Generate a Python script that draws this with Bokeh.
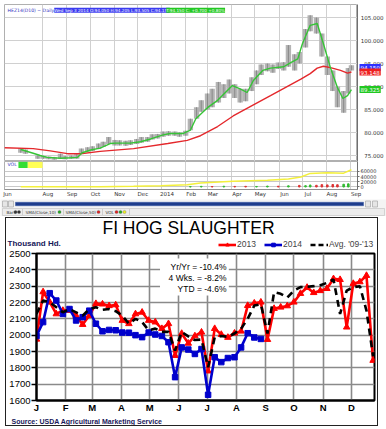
from bokeh.plotting import figure
from bokeh.models import (FixedTicker, Range1d, Label, Legend, LegendItem, BoxAnnotation,
                          NumeralTickFormatter, Title)
from bokeh.layouts import column, row
from bokeh.embed import file_html
from bokeh.resources import INLINE
from bokeh.core.properties import value

# ---------------- TOP PANEL DATA: HEZ14 lean hogs (x = days since 2013-06-01) -------------
bar_day = [33, 39, 55, 62, 69, 76, 84, 90, 98, 105, 111, 119, 125, 133, 139, 146, 154, 160,
           168, 174, 182, 188, 196, 202, 209, 216, 223, 231, 237, 245, 251, 259, 265, 273,
           279, 287, 294, 301, 308, 315, 322, 330, 336, 342, 350, 357, 364, 371, 377, 385,
           391, 399, 405, 413, 420, 427, 434, 440, 448, 454, 458]
bar_low = [75.6, 75.4, 74.3, 74.3, 74.2, 74.1, 74.3, 74.2, 74.3, 74.3, 75.5, 75.8, 76.0, 76.4,
           76.9, 77.5, 77.2, 77.2, 77.1, 77.3, 77.5, 77.8, 78.0, 78.5, 78.7, 79.1, 79.3, 79.3,
           79.1, 79.3, 80.5, 83.0, 84.5, 85.0, 85.5, 86.5, 87.5, 88.5, 87.5, 86.5, 86.8, 89.0,
           90.5, 92.5, 93.3, 93.0, 93.8, 93.5, 94.3, 93.5, 95.0, 98.5, 102.0, 101.5, 96.5,
           92.5, 89.0, 85.5, 84.3, 88.5, 93.5]
bar_high = [76.6, 76.3, 75.0, 74.9, 74.8, 74.7, 75.4, 74.9, 75.0, 75.3, 76.5, 76.8, 77.0, 77.6,
            78.0, 79.0, 78.4, 78.3, 78.2, 78.3, 78.6, 79.0, 79.0, 79.6, 79.7, 80.2, 80.3, 80.2,
            80.0, 80.4, 83.0, 85.5, 87.0, 88.5, 89.5, 91.0, 90.5, 91.5, 90.5, 89.5, 89.5, 92.0,
            93.5, 94.8, 95.0, 94.8, 95.2, 95.3, 99.0, 97.0, 97.5, 102.5, 105.5, 105.0, 101.5,
            96.5, 93.5, 90.0, 89.0, 94.0, 94.6]
last_close = 94.150

sma10_day = [33, 49, 58, 67, 84, 97, 106, 112, 123, 135, 148, 155, 174, 187, 200, 216, 225,
             242, 251, 258, 273, 286, 305, 315, 324, 332, 344, 354, 371, 380, 389, 395, 405,
             414, 422, 431, 440, 447, 453, 458]
sma10_val = [76.3, 75.5, 75.0, 74.6, 74.4, 74.5, 74.6, 75.6, 76.2, 76.6, 77.6, 77.7, 77.7,
             78.0, 78.6, 79.5, 79.8, 79.8, 80.5, 83.0, 85.4, 87.0, 90.2, 89.5, 88.7, 91.3,
             93.5, 94.0, 94.3, 95.2, 96.0, 99.3, 103.3, 103.7, 99.3, 94.1, 89.8, 87.4, 88.0,
             89.325]

sma50_day = [12, 49, 71, 93, 110, 135, 178, 222, 247, 264, 286, 306, 332, 354, 380, 393, 405,
             414, 422, 431, 444, 453, 458]
sma50_val = [76.7, 76.5, 76.0, 75.4, 75.4, 75.9, 76.5, 77.6, 78.3, 79.3, 81.3, 83.6, 86.0,
             88.0, 90.4, 91.6, 92.8, 94.0, 94.4, 94.1, 93.5, 92.9, 93.148]

oi_day = [33, 135, 178, 213, 247, 264, 306, 350, 377, 393, 405, 427, 448, 458]
oi_val = [500, 1000, 2500, 5000, 9000, 15000, 22000, 26000, 31000, 38000, 52000, 54000,
          53000, 66000]

vol_day = [251, 265, 279, 294, 308, 322, 336, 350, 364, 377, 391, 399, 405, 413, 420, 427,
           434, 440, 448, 454]
vol_val = [1500, 2500, 1800, 3000, 2200, 2500, 2000, 3500, 3000, 4500, 6000, 5000, 7500,
           6500, 9000, 8000, 9500, 8500, 10500, 12000]
vol_up = [1, 1, 0, 1, 0, 0, 1, 1, 0, 1, 0, 1, 1, 0, 0, 0, 0, 0, 1, 1]

month_start_day = [61, 92, 122, 153, 183, 214, 245, 273, 304, 334, 365, 395, 426, 457]
month_label_day = [16, 68, 99, 129, 160, 190, 221, 252, 280, 311, 341, 372, 402, 433, 464]
month_labels = ["Jun", "Aug", "Sep", "Oct", "Nov", "Dec", "2014", "Feb", "Mar", "Apr", "May",
                "Jun", "Jul", "Aug", "Sep"]
price_ticks = [75, 80, 85, 90, 95, 100, 105]
vol_ticks = [0, 20000, 40000, 60000]

# ---------------- BOTTOM PANEL DATA: FI hog slaughter, thousand head ----------------------
week_day = [7 * i for i in range(52)]          # weekly positions, day of year
s2013 = [1975, 2265, 2202, 2130, 2151, 2151, 2120, 2065, 2120, 2193, 2190, 2180, 2185, 2090,
         2070, 2130, 2140, 2090, 2080, 2040, 2070, 1875, 2010, 1950, 1995, 2018, 1780, 2040,
         2004, 1986, 2012, 2024, 2181, 2196, 2202, 1973, 2163, 2171, 2179, 2202, 2255, 2292,
         2260, 2272, 2285, 2345, 2340, 2049, 2316, 2326, 2365, 1845]
s2014 = [1995, 2080, 2257, 2212, 2130, 2160, 2090, 2110, 2150, 2070, 2024, 2032, 2030, 2016,
         2015, 2000, 1988, 2016, 2004, 1995, 1957, 1743, 1925, 1912, 1885, 1915, 1635, 1865,
         1835, 1860, 1865, 1925, 2012, 1986, 1977]
savg = [2130, 2212, 2202, 2171, 2140, 2160, 2140, 2120, 2160, 2171, 2155, 2160, 2147, 2120,
        2070, 2100, 2080, 2030, 2040, 2020, 2020, 1906, 2020, 1993, 1970, 1973, 1804, 1986,
        1995, 1990, 2010, 2040, 2100, 2181, 2190, 2010, 2263, 2253, 2230, 2273, 2294, 2296,
        2300, 2306, 2320, 2341, 2130, 2273, 2294, 2300, 2150, 1870]
hog_month_day = [0, 31, 59, 90, 120, 151, 181, 212, 243, 273, 304, 334]
hog_month_labels = ["J", "F", "M", "A", "M", "J", "J", "A", "S", "O", "N", "D"]
hog_y_ticks = [1600, 1700, 1800, 1900, 2000, 2100, 2200, 2300, 2400, 2500]
stats = ["Yr/Yr = -10.4%", "4 Wks. = -8.2%", "YTD = -4.6%"]

W = 386
SMALL = "DejaVu Sans"
ARIAL = "Liberation Sans"


def small_axis(ax):
    ax.major_label_text_font = SMALL
    ax.major_label_text_font_size = "5.5px"
    ax.major_label_text_color = "#333333"
    ax.major_tick_in = 0
    ax.minor_tick_out = 0
    ax.minor_tick_in = 0
    ax.major_label_standoff = 1
    ax.axis_line_color = "#707070"
    ax.major_tick_line_color = "#707070"


def bare(p):
    p.outline_line_color = None
    p.grid.visible = False


def no_align(p):
    if "frame_align" in p.properties():
        p.frame_align = False


# ================= price pane =================
p1 = figure(width=357, height=161, x_range=Range1d(12.1, 465.8), y_range=Range1d(73.70, 107.83),
            output_backend="svg", toolbar_location=None, x_axis_location=None,
            y_axis_location=None, min_border_left=4, min_border_right=0,
            min_border_top=4, min_border_bottom=0)
p1.outline_line_color = "#b0b0b0"
p1.ygrid.ticker = FixedTicker(ticks=price_ticks)
p1.ygrid.grid_line_color = "#d0d0d0"
p1.xgrid.ticker = FixedTicker(ticks=month_start_day)
p1.xgrid.grid_line_color = "#d0d0d0"

p1.vbar(x=bar_day, bottom=bar_low, top=bar_high, width=6.9, fill_color="#b4b4b4",
        line_color=None)
p1.segment(x0=bar_day, x1=bar_day, y0=bar_low, y1=bar_high, color="#8a8a8a", line_width=1)
p1.line(sma50_day, sma50_val, color="#e4282c", line_width=1.4)
p1.line(sma10_day, sma10_val, color="#35c435", line_width=1.4)

p1.add_layout(Label(x=16, y=106.6, text="HEZ14(D10) ~ Daily", text_font=SMALL,
                    text_font_size="4.6px", text_color="#3030c0", text_baseline="middle"))
p1.add_layout(Label(x=76, y=106.6, text="Wed Sep 3 2014 O:94.050 H:94.205 L:93.505 C:94.150",
                    text_font=SMALL, text_font_size="4.2px", text_color="white",
                    text_baseline="middle", background_fill_color="#3b3bf0"))
p1.add_layout(Label(x=220, y=106.6, text="T:94.150 C: +0.700 +0.80%", text_font=SMALL,
                    text_font_size="4.2px", text_color="white", text_baseline="middle",
                    background_fill_color="#22c822"))

# price scale strip at the right (axis labels drawn into the strip, value boxes on top)
p1r = figure(width=29, height=161, x_range=Range1d(0, 29), y_range=p1.y_range,
             output_backend="svg", toolbar_location=None, x_axis_location=None,
             y_axis_location="left", min_border_left=0, min_border_right=0,
             min_border_top=4, min_border_bottom=0)
bare(p1r)
p1r.yaxis.ticker = FixedTicker(ticks=price_ticks)
p1r.yaxis.formatter = NumeralTickFormatter(format="0.000")
small_axis(p1r.yaxis[0])
p1r.yaxis.major_tick_out = 2
p1r.yaxis.major_label_standoff = -28
for val, bg in [(last_close, "#3030ff"), (sma50_val[-1], "#ee2020"), (sma10_val[-1], "#22c822")]:
    p1r.add_layout(Label(x=2, y=val, text="%.3f" % val, text_font=SMALL,
                         text_font_size="5.5px", text_color="white", text_baseline="middle",
                         background_fill_color=bg, padding=1))

# ================= volume pane =================
p2 = figure(width=W, height=38, x_range=p1.x_range, y_range=Range1d(-9600, 97500),
            output_backend="svg", toolbar_location=None, y_axis_location="right",
            min_border_left=4, min_border_right=29, min_border_top=0, min_border_bottom=8)
p2.outline_line_color = "#b0b0b0"
p2.yaxis.ticker = FixedTicker(ticks=vol_ticks)
small_axis(p2.yaxis[0])
p2.yaxis.major_label_text_font_size = "5px"
p2.yaxis.major_tick_out = 2
p2.ygrid.grid_line_color = "#c8c8c8"
p2.xaxis.ticker = FixedTicker(ticks=month_label_day)
p2.xaxis.major_label_overrides = {d: t for d, t in zip(month_label_day, month_labels)}
small_axis(p2.xaxis[0])
p2.xaxis.major_tick_out = 0
p2.xaxis.axis_line_color = "#909090"
p2.xgrid.ticker = FixedTicker(ticks=month_start_day)
p2.xgrid.grid_line_color = "#d0d0d0"

p2.line(oi_day, oi_val, color="#f4f03c", line_width=1.5)
p2.vbar(x=vol_day, bottom=0, top=vol_val, width=2.0,
        color=["#33bb33" if u else "#dd3333" for u in vol_up])
p2.add_layout(Label(x=16, y=86000, text="VOL", text_font=SMALL, text_font_size="4.6px",
                    text_color="#3030c0", text_baseline="middle"))
p2.add_layout(BoxAnnotation(left=30, right=42, bottom=73000, top=97000, fill_color="#33dd33",
                            fill_alpha=1, line_color=None))
p2.add_layout(BoxAnnotation(left=42, right=61, bottom=73000, top=97000, fill_color="#ffff55",
                            fill_alpha=1, line_color=None))

# ================= scroll bar / legend strip =================
p3 = figure(width=W, height=17, x_range=Range1d(0, W), y_range=Range1d(0, 17),
            output_backend="svg", toolbar_location=None, x_axis_location=None,
            y_axis_location=None, min_border=0)
bare(p3)
no_align(p3)
p3.background_fill_color = "#f4f4f4"
p3.quad(left=[2, 8, 365, 372], right=[7, 13, 370, 377], bottom=[9.5] * 4, top=[15.5] * 4,
        fill_color="#e6e6e6", line_color="#a8a8a8", line_width=0.7)
p3.quad(left=[15], right=[363], bottom=[10.8], top=[14.2], fill_color="#1e3c8c",
        line_color="#4060a8", line_width=0.6)
p3.quad(left=[2], right=[384], bottom=[1], top=[8], fill_color="#ececec",
        line_color="#c4c4c4", line_width=0.7)
p3.segment(x0=[22, 63, 102, 129], x1=[22, 63, 102, 129], y0=[1.5] * 4, y1=[7.5] * 4,
           color="#b8b8b8", line_width=0.6)
p3.text(x=[6, 25, 65, 105], y=[4.5] * 4,
        text=["Bars", "SMA(Close,10)", "SMA(Close,50)", "VOL"],
        text_font=value(SMALL), text_font_size="4.2px", text_color="#333333",
        text_baseline="middle")
p3.scatter(x=[15, 18.5, 59, 98, 116, 120, 124], y=[4.5] * 7, size=3.2, line_width=0.3,
           fill_color=["#333333", "#333333", "#22aa22", "#dd2222", "#dd2222", "#22aa22",
                       "#eeee22"], line_color="#555555")

# ================= FI HOG SLAUGHTER : header strip =================
p4h = figure(width=371, height=31, x_range=Range1d(0, 371), y_range=Range1d(0, 31),
             output_backend="svg", toolbar_location=None, x_axis_location=None,
             y_axis_location=None, min_border=0)
bare(p4h)
no_align(p4h)
p4h.text(x=[182], y=[22], text=["FI HOG SLAUGHTER"], text_font=value(ARIAL),
         text_font_size="17.5px", text_align="center", text_baseline="middle",
         text_color="black")
p4h.text(x=[1], y=[6], text=["Thousand Hd."], text_font=value(ARIAL), text_font_size="8px",
         text_font_style="bold", text_baseline="middle", text_color="#18185a")
# legend proxies: styles only, their single point sits outside the visible range
h13 = p4h.line([-50, -40], [-50, -50], color="#ff0000", line_width=2.6)
h13m = p4h.scatter([-50], [-50], marker="triangle", size=6.5, color="#ff0000")
h14 = p4h.line([-50, -40], [-50, -50], color="#0000cc", line_width=2.6)
h14m = p4h.scatter([-50], [-50], marker="square", size=5.5, color="#0000cc")
havg = p4h.line([-50, -40], [-50, -50], color="black", line_width=2.6, line_dash="5 3")
legend = Legend(items=[LegendItem(label="2013", renderers=[h13, h13m]),
                       LegendItem(label="2014", renderers=[h14, h14m]),
                       LegendItem(label="Avg. '09-'13", renderers=[havg])],
                orientation="horizontal", location=(212, 0), glyph_width=18,
                glyph_height=9, label_text_font=ARIAL, label_text_font_size="8.5px",
                label_standoff=1, spacing=7, padding=0, margin=0,
                background_fill_alpha=0, border_line_alpha=0, label_height=9)
p4h.add_layout(legend)

# ================= FI HOG SLAUGHTER : chart =================
p4 = figure(width=371, height=176, x_range=Range1d(0, 358.5), y_range=Range1d(1600, 2500),
            output_backend="svg", toolbar_location=None, min_border_left=30,
            min_border_right=3, min_border_top=4, min_border_bottom=25)
no_align(p4)
p4.add_layout(Title(text="Source: USDA Agricultural Marketing Service", align="left",
                    offset=-25, text_font=ARIAL, text_font_size="7px", text_font_style="bold",
                    text_color="#18185a", standoff=0), "below")
p4.outline_line_color = "black"
p4.outline_line_width = 2
p4.yaxis.ticker = FixedTicker(ticks=hog_y_ticks)
p4.yaxis.major_label_text_font = ARIAL
p4.yaxis.major_label_text_font_size = "9.5px"
p4.yaxis.major_label_text_color = "black"
p4.yaxis.major_tick_out = 5
p4.yaxis.major_tick_in = 0
p4.yaxis.minor_tick_out = 0
p4.yaxis.minor_tick_in = 0
p4.yaxis.major_label_standoff = 1
p4.yaxis.axis_line_width = 2
p4.yaxis.major_tick_line_width = 1.5
p4.xaxis.ticker = FixedTicker(ticks=hog_month_day)
p4.xaxis.major_label_overrides = {d: t for d, t in zip(hog_month_day, hog_month_labels)}
p4.xaxis.major_label_text_font = ARIAL
p4.xaxis.major_label_text_font_size = "9.5px"
p4.xaxis.major_label_text_color = "black"
p4.xaxis.major_label_text_font_style = "bold"
p4.xaxis.major_tick_out = 0
p4.xaxis.major_tick_in = 0
p4.xaxis.minor_tick_out = 0
p4.xaxis.minor_tick_in = 0
p4.xaxis.major_label_standoff = 1
p4.xaxis.axis_line_width = 2
p4.grid.grid_line_color = "#8a8a8a"
p4.grid.grid_line_width = 1.6

p4.line(week_day, s2013, color="#ff0000", line_width=2.6)
p4.scatter(week_day, s2013, marker="triangle", size=6.5, color="#ff0000")
p4.line(week_day[:len(s2014)], s2014, color="#0000cc", line_width=2.6)
p4.scatter(week_day[:len(s2014)], s2014, marker="square", size=5.5, color="#0000cc")
p4.line(week_day, savg, color="black", line_width=2.6, line_dash="7 5")

p4.add_layout(BoxAnnotation(left=131, right=204, bottom=2243, top=2469, fill_color="white",
                            fill_alpha=1, line_color=None))
for txt, yy in zip(stats, [2420, 2350, 2280]):
    p4.add_layout(Label(x=201.5, y=yy, text=txt, text_font=ARIAL, text_font_size="8.5px",
                        text_align="right", text_baseline="middle", text_color="black"))

hog_block = column(p4h, p4, spacing=0, margin=(1, 0, 0, 5),
                   styles={"border": "1px solid #222222"})
layout = column(row(p1, p1r, spacing=0), p2, p3, hog_block, spacing=0)
open("out.html", "w").write(file_html(layout, INLINE))
